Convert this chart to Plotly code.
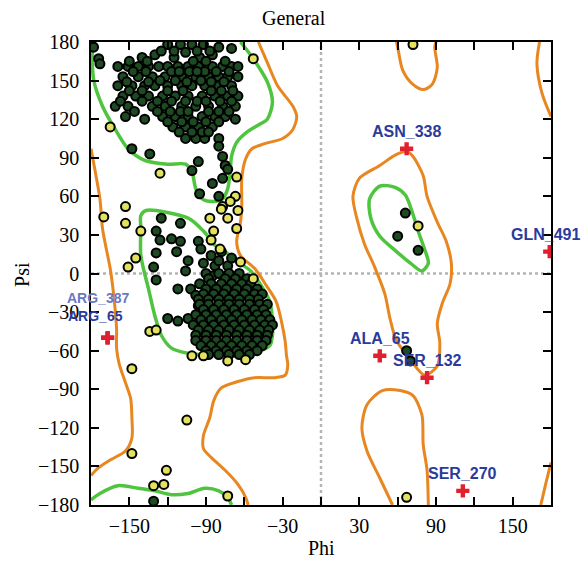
import plotly.graph_objects as go

# ---------------- axis ticks ----------------
x_tick_vals = [-180, -150, -120, -90, -60, -30, 0, 30, 60, 90, 120, 150, 180]
x_tick_text = ["", "\u2212150", "", "\u221290", "", "\u221230", "", "30", "", "90", "", "150", ""]
y_tick_vals = [-180, -150, -120, -90, -60, -30, 0, 30, 60, 90, 120, 150, 180]
y_tick_text = ["\u2212180", "\u2212150", "\u2212120", "\u221290", "\u221260", "\u221230", "0",
               "30", "60", "90", "120", "150", "180"]

# ---------------- contour outlines (phi, psi) ----------------
core_beta_phi = [-179, -178, -171, -161, -151, -138, -120, -106, -101, -98, -93, -85, -77, -73, -71, -70,
                 -66, -58, -48, -42, -38, -42, -53, -63]
core_beta_psi = [180, 151, 130, 112, 97, 88, 85, 85, 79, 66, 58, 56, 58, 66, 80, 91,
                 102, 110, 116, 120, 133, 149, 167, 180]
core_beta_wrap_phi = [-180, -173, -159, -143, -130, -117, -104, -91, -80, -73, -70]
core_beta_wrap_psi = [-176, -171, -165, -167, -169, -172, -171, -167, -169, -174, -180]
core_alpha_phi = [-137, -104, -92, -83, -75, -65, -55, -47, -40, -38, -38, -40, -47, -57, -78, -104,
                  -117, -125, -130, -135, -141, -141, -141, -137]
core_alpha_psi = [49, 43, 33, 22, 17, 9, 2, -9, -22, -37, -48, -56, -60, -64, -64, -62,
                  -58, -48, -33, -12, 14, 35, 45, 49]
core_left_phi = [46, 38, 39, 46, 58, 70, 79, 84, 81, 76, 71, 66, 58, 46]
core_left_psi = [68, 58, 43, 29, 18, 8, 2, 8, 19, 33, 49, 61, 67, 68]

allow_main_r_phi = [-49, -42, -34, -22, -19, -22, -30, -44, -54, -59, -62, -62, -63, -66, -63, -52, -43, -35,
                    -31, -28, -27, -26, -28, -36, -52, -65, -78, -84, -87, -92, -92, -86, -75, -65, -59, -57]
allow_main_r_psi = [180, 164, 146, 130, 122, 112, 105, 101, 97, 89, 74, 53, 40, 25, 14, 4, -9, -22,
                    -37, -53, -64, -71, -79, -81, -81, -84, -89, -99, -112, -126, -136, -143, -153, -164, -174, -180]
allow_main_l_phi = [-180, -177, -173, -171, -168, -165, -162, -160, -160, -158, -153, -149, -148, -148,
                    -153, -165, -174, -180]
allow_main_l_psi = [97, 81, 58, 35, 19, 4, -19, -43, -58, -70, -85, -97, -112, -128,
                    -138, -145, -151, -157]
allow_left_phi = [67, 72, 80, 83, 91, 98, 102, 101, 95, 91, 93, 91, 81, 70, 59, 54, 50, 42, 34, 28, 25,
                  30, 46, 58, 67]
allow_left_psi = [95, 91, 76, 60, 40, 25, 8, -8, -23, -39, -54, -72, -79, -67, -52, -35, -16, 5, 23, 43, 60,
                  74, 84, 92, 95]
allow_top_phi = [59, 60, 64, 72, 80, 87, 91, 89, 90]
allow_top_psi = [180, 176, 158, 147, 143, 147, 160, 176, 180]
allow_bot_phi = [56, 46, 36, 32, 36, 48, 62, 72, 79, 80, 83, 84]
allow_bot_psi = [-180, -159, -138, -120, -102, -91, -91, -95, -110, -133, -153, -180]
allow_tr_phi = [171, 169, 173, 180]
allow_tr_psi = [180, 163, 140, 122]
allow_br_phi = [180, 176, 172]
allow_br_psi = [-147, -163, -180]

# ---------------- residues ----------------
favoured_phi = [
    -120, -110, -101, -92, -80, -70, -106, -178, -174, -173,
    -159, -151, -143, -135, -127, -120, -112, -104, -96, -85, -77, -70, -65,
    -155, -143, -132, -122, -109, -98, -88, -80, -73, -65,
    -159, -148, -138, -130, -120, -109, -101, -91, -80, -70,
    -155, -145, -135, -124, -114, -104, -93, -83, -73, -65,
    -161, -151, -132, -122, -109, -98, -88, -77, -67,
    -153, -124, -114, -104, -93, -83, -75, -138, -67,
    -116, -106, -96, -85, -106, -98, -91, -80,
    -148, -134, -80, -77, -96, -75, -101, -73, -85, -77, -95, -80,
    -140, -130, -115, -95, -85, -117, -103, -91, -126, -114, -94, -140, -128, -117, -97, -86, -110, -100, -88, -93,
    -125, -115, -97, -87,
    -150, -136, -100, -90, -75,
    -147, -137, -111, -97, -82, -72,
    -152, -135, -105, -86, -76,
    -150, -120, -108, -78, -69,
    -157, -140, -106, -90, -79, -70,
    -146, -128, -118, -104, -80, -72,
    -120, -109, -90, -80,
    -111, -101, -88,
    -125, -110, -129, -126, -117, -110, -129, -113, -104, -131, -129, -106, -96, -94, -86, -78, -83, -73,
    -112, -102, -98, -120, -112, -104, -96, -92, -85, -80, -70,
    -90, -80, -72, -64,
    -88, -75, -67, -58,
    -95, -86, -78, -70, -62, -55,
    -90, -82, -74, -66, -58, -50,
    -92, -84, -76, -68, -60, -52, -46,
    -96, -88, -80, -72, -64, -56, -49,
    -95, -88, -80, -72, -64, -56, -48, -42,
    -92, -84, -76, -68, -60, -52, -45,
    -98, -90, -82, -74, -66, -58, -50, -43,
    -94, -86, -78, -70, -62, -54, -47, -40,
    -100, -92, -84, -76, -68, -60, -52, -44, -38,
    -96, -88, -80, -72, -64, -56, -48, -41,
    -98, -90, -82, -74, -66, -58, -50, -42,
    -98, -90, -82, -74, -66, -58, -50, -43,
    -94, -86, -78, -70, -62, -54, -46,
    -90, -82, -74, -66, -58, -50,
    -88, -80, -72, -64, -56,
    66, 60, 76, 67, 70, -131,
]
favoured_psi = [
    178, 178, 178, 178, 176, 175, 172, 176, 167, 163,
    161, 161, 161, 161, 161, 161, 161, 161, 161, 161, 161, 161, 161,
    153, 153, 153, 153, 153, 153, 153, 153, 153, 153,
    146, 146, 146, 146, 146, 146, 146, 146, 146, 146,
    138, 138, 138, 138, 138, 138, 138, 138, 138, 138,
    130, 130, 130, 130, 130, 130, 130, 130, 130,
    122, 122, 122, 122, 122, 122, 122, 120, 120,
    114, 114, 114, 114, 105, 105, 105, 105,
    97, 93, 99, 91, 87, 84, 80, 81, 70, 74, 62, 60,
    168, 170, 168, 168, 170, 157, 157, 157, 150, 150, 150, 142, 134, 134, 134, 142, 126, 118, 126, 110,
    173, 173, 173, 173,
    165, 165, 165, 165, 165,
    157, 157, 157, 157, 157, 157,
    149, 149, 149, 149, 149,
    142, 142, 142, 142, 142,
    134, 134, 134, 134, 134, 134,
    126, 126, 126, 126, 126, 126,
    118, 118, 118, 118,
    110, 110, 110,
    43, 39, 33, 26, 27, 25, 16, 17, 10, 5, -5, 2, 25, 19, 14, 17, 6, 6,
    -12, -12, -17, -35, -37, -35, -25, 8, -2, 10, 12,
    0, 0, 0, 0,
    -4, -4, -4, -4,
    -8, -8, -8, -8, -8, -8,
    -12, -12, -12, -12, -12, -12,
    -16, -16, -16, -16, -16, -16, -16,
    -20, -20, -20, -20, -20, -20, -20,
    -24, -24, -24, -24, -24, -24, -24, -24,
    -28, -28, -28, -28, -28, -28, -28,
    -32, -32, -32, -32, -32, -32, -32, -32,
    -36, -36, -36, -36, -36, -36, -36, -36,
    -40, -40, -40, -40, -40, -40, -40, -40, -40,
    -44, -44, -44, -44, -44, -44, -44, -44,
    -48, -48, -48, -48, -48, -48, -48, -48,
    -52, -52, -52, -52, -52, -52, -52, -52,
    -56, -56, -56, -56, -56, -56, -56,
    -60, -60, -60, -60, -60, -60,
    -63, -63, -63, -63, -63,
    47, 29, 18, -60, -68, -177,
]

allowed_phi = [-53, -165, -126, -66, -67, -77, -71, -65, -153, -170, -153, -87, -73, -141, -145, -151,
               -84, -86, -79, -78, -66, -63, -53, -134, -129, -148, -101, -92, -73, -59, -105,
               -148, -121, -131, -123, -73, 76, 72, 67]
allowed_psi = [167, 114, 78, 75, 60, 52, 56, 49, 52, 44, 39, 43, 43, 33, 12, 5,
               33, 26, 19, 50, 35, 9, -4, -45, -44, -74, -64, -64, -68, -67, -114,
               -140, -153, -165, -164, -173, 37, 178, -174]

outlier_names = ["ASN_338", "GLN_491", "ARG_387", "ARG_65", "ALA_65", "SER_132", "SER_270"]
outlier_phi = [67, 179, -167, -167, 46, 83, 111]
outlier_psi = [97, 17, -50, -50, -64, -81, -169]


def join(parts):
    xs, ys = [], []
    for px, py in parts:
        xs += list(px) + [None]
        ys += list(py) + [None]
    return xs, ys


fig = go.Figure()

ax, ay = join([(allow_main_r_phi, allow_main_r_psi), (allow_main_l_phi, allow_main_l_psi),
               (allow_left_phi, allow_left_psi), (allow_top_phi, allow_top_psi),
               (allow_bot_phi, allow_bot_psi), (allow_tr_phi, allow_tr_psi), (allow_br_phi, allow_br_psi)])
fig.add_trace(go.Scatter(x=ax, y=ay, mode="lines", line=dict(color="#e8861f", width=3, shape="spline", smoothing=0.8),
                         hoverinfo="skip", showlegend=False))
cx, cy = join([(core_beta_phi, core_beta_psi), (core_beta_wrap_phi, core_beta_wrap_psi),
               (core_alpha_phi, core_alpha_psi), (core_left_phi, core_left_psi)])
fig.add_trace(go.Scatter(x=cx, y=cy, mode="lines", line=dict(color="#4fc43f", width=3.5, shape="spline", smoothing=0.8),
                         hoverinfo="skip", showlegend=False))

fig.add_trace(go.Scatter(x=favoured_phi, y=favoured_psi, mode="markers",
                         marker=dict(size=9, color="#1d4a22", line=dict(color="#000000", width=2)),
                         showlegend=False))
fig.add_trace(go.Scatter(x=allowed_phi, y=allowed_psi, mode="markers",
                         marker=dict(size=9, color="#e2e25e", line=dict(color="#000000", width=2)),
                         showlegend=False))
fig.add_trace(go.Scatter(x=outlier_phi, y=outlier_psi, mode="markers",
                         marker=dict(size=11, symbol="cross", color="#e0202e", line=dict(width=0)),
                         showlegend=False))

label_shift = {"ARG_387": (-10, 40), "ARG_65": (-12, 22), "GLN_491": (-4, 17)}
for name, ph, ps in zip(outlier_names, outlier_phi, outlier_psi):
    xs, ys = label_shift.get(name, (0, 17))
    col = "#6878c4" if name == "ARG_387" else "#2a3b9c"
    size = 14 if name.startswith("ARG") else 16
    fig.add_annotation(x=ph, y=ps, text="<b>" + name + "</b>", showarrow=False, xshift=xs, yshift=ys,
                       font=dict(family="Liberation Sans", size=size, color=col))

fig.add_shape(type="line", xref="x", yref="paper", x0=0, x1=0, y0=0, y1=1, layer="below",
              line=dict(color="#b4b4b4", width=2.5, dash="dot"))
fig.add_shape(type="line", xref="paper", yref="y", x0=0, x1=1, y0=0, y1=0, layer="below",
              line=dict(color="#b4b4b4", width=2.5, dash="dot"))

serif = "Liberation Serif"
tickfont = dict(family=serif, size=20, color="#000000")
fig.update_xaxes(range=[-180, 180], tickvals=x_tick_vals, ticktext=x_tick_text, ticks="inside", ticklen=8,
                 tickwidth=1.5, tickcolor="#000000", showline=True, linecolor="#000000", linewidth=1.5,
                 mirror="ticks", showgrid=False, zeroline=False, tickfont=tickfont, automargin=False,
                 ticklabelstandoff=2)
fig.update_yaxes(range=[-180, 180], tickvals=y_tick_vals, ticktext=y_tick_text, ticks="inside", ticklen=8,
                 tickwidth=1.5, tickcolor="#000000", showline=True, linecolor="#000000", linewidth=1.5,
                 mirror="ticks", showgrid=False, zeroline=False, tickfont=tickfont, automargin=False,
                 ticklabelstandoff=6)

fig.add_annotation(text="General", xref="paper", yref="paper", x=(294 - 91) / 460, y=1 + 24 / 463,
                   xanchor="center", yanchor="middle", showarrow=False,
                   font=dict(family=serif, size=20, color="#000000"))
fig.add_annotation(text="Phi", xref="paper", yref="paper", x=0.5, y=-43 / 463,
                   xanchor="center", yanchor="middle", showarrow=False,
                   font=dict(family=serif, size=20, color="#000000"))
fig.add_annotation(text="Psi", xref="paper", yref="paper", x=-69 / 460, y=0.497, textangle=-90,
                   xanchor="center", yanchor="middle", showarrow=False,
                   font=dict(family=serif, size=20, color="#000000"))

fig.update_layout(
    width=587, height=563,
    margin=dict(l=91, r=36, t=42, b=58),
    paper_bgcolor="#ffffff", plot_bgcolor="#ffffff",
)

fig.write_html("out.html", config={"displayModeBar": False},
               post_script="document.body.style.margin='0';document.body.style.padding='0';"
                           "document.documentElement.style.overflow='hidden';")
